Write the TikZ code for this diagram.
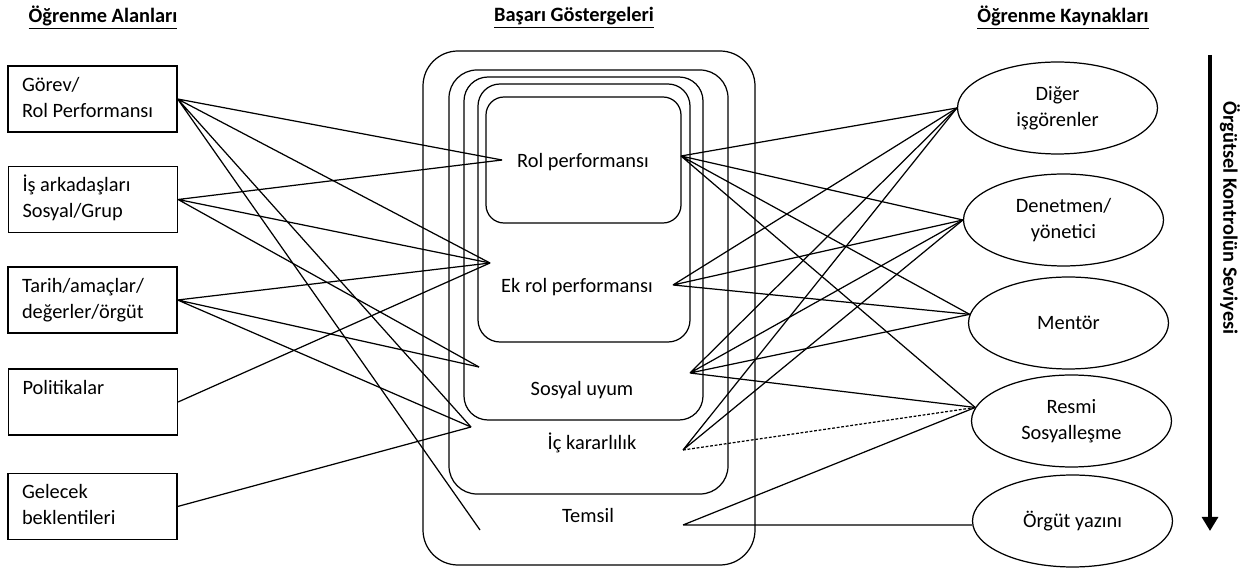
\documentclass[tikz,border=0pt]{standalone}
\usepackage{fontspec}
\setmainfont{Carlito}
\usepackage{xcolor}
\usepackage{tikz}
\usetikzlibrary{shapes.geometric,arrows.meta}

% two left-aligned lines with the font's own word spacing
\newcommand{\arealines}[1]{{\spaceskip=0pt\xspaceskip=0pt\begin{tabular}{@{}l@{}}#1\end{tabular}}}

\tikzset{
  areabox/.style={draw,line width=0.7pt,minimum width=3.38cm,minimum height=1.32cm,
    text width=2.82cm,inner xsep=0.28cm},
  sourcebox/.style={draw,ellipse,line width=0.7pt,minimum width=4cm,minimum height=1.84cm,
    inner sep=0pt,align=center},
  heading/.style={font=\fontsize{11.6pt}{14pt}\bfseries\selectfont},
  link/.style={line width=0.7pt},
}

\begin{document}
\begin{tikzpicture}[x=0.02cm,y=-0.02cm,font=\fontsize{11.6pt}{14.7pt}\selectfont]
        \useasboundingbox (0,0) rectangle (1254,570);

        % Column headings
        \node[heading] (hleft) at (103,18) {\underline{Öğrenme Alanları}};
        \node[heading] (hmid) at (574,18) {\underline{Başarı Göstergeleri}};
        \node[heading] (hright) at (1063,18) {\underline{Öğrenme Kaynakları}};

        % Learning areas (left column)
        \node[areabox] (gorev) at (92.5,99) {\arealines{Görev/\\Rol Performansı}};
        \node[areabox] (is) at (93,199.5) {\arealines{İş arkadaşları\\Sosyal/Grup}};
        \node[areabox] (tarih) at (92.5,300) {\arealines{Tarih/amaçlar/\\değerler/örgüt}};
        \node[areabox] (pol) at (93,402) {\arealines{Politikalar\\~}};
        \node[areabox] (gelecek) at (92.5,506.5) {\arealines{Gelecek\\beklentileri}};

        % Nested indicator frames (outermost first)
        \draw[line width=0.7pt,rounded corners=0.7cm] (423,51) rectangle (755,565);
        \draw[line width=0.7pt,rounded corners=0.56cm] (449,70) rectangle (728,494);
        \draw[line width=0.7pt,rounded corners=0.48cm] (464,77) rectangle (703,420);
        \draw[line width=0.7pt,rounded corners=0.44cm] (478,84) rectangle (690,342);
        \draw[line width=0.7pt,rounded corners=0.36cm] (486,97) rectangle (681,223);

        \node (rolp) at (583,162) {Rol performansı};
        \node (ekrol) at (577,287) {Ek rol performansı};
        \node (sosyal) at (582,390) {Sosyal uyum};
        \node (ic) at (592,443) {İç kararlılık};
        \node (temsil) at (588,515) {Temsil};

        % where the lines meet each indicator
        \coordinate (rolW) at (502,160);  \coordinate (rolE) at (681,156);
        \coordinate (ekW) at (490,263);   \coordinate (ekE) at (673,285);
        \coordinate (sosW) at (479,367);  \coordinate (sosE) at (690,373);
        \coordinate (icW) at (471,427);   \coordinate (icE) at (683,450);
        \coordinate (temW) at (480,530);  \coordinate (temE) at (683,525);

        % Learning sources (right column)
        \node[sourcebox] (diger) at (1057.5,108) {Diğer\\işgörenler};
        \node[sourcebox] (denetmen) at (1063.5,220) {Denetmen/\\yönetici};
        \node[sourcebox] (mentor) at (1068.5,323) {Mentör};
        \node[sourcebox] (resmi) at (1071.5,421) {Resmi\\Sosyalleşme};
        \node[sourcebox] (orgut) at (1072.5,521) {Örgüt yazını};

        % Areas -> indicators
        \draw[link] (gorev.east) -- (rolW) (gorev.east) -- (ekW)
                    (gorev.east) -- (icW) (gorev.east) -- (temW);
        \draw[link] (is.east) -- (rolW) (is.east) -- (ekW) (is.east) -- (sosW);
        \draw[link] (tarih.east) -- (ekW) (tarih.east) -- (sosW) (tarih.east) -- (icW);
        \draw[link] (pol.east) -- (ekW);
        \draw[link] (gelecek.east) -- (icW);

        % Indicators -> sources
        \draw[link] (rolE) -- (diger.west) (rolE) -- (denetmen.west)
                    (rolE) -- (mentor.175) (rolE) -- (resmi.172);
        \draw[link] (ekE) -- (diger.west) (ekE) -- (denetmen.west) (ekE) -- (mentor.175);
        \draw[link] (sosE) -- (diger.west) (sosE) -- (denetmen.west)
                    (sosE) -- (mentor.175) (sosE) -- (resmi.172);
        \draw[link] (icE) -- (diger.west) (icE) -- (denetmen.west);
        \draw[link,dash pattern=on 1.6pt off 1pt] (icE) -- (resmi.172);
        \draw[link] (temE) -- (resmi.172) (temE) -- (temE -| orgut.west);

        % Level of organisational control
        \coordinate (lvltop) at (1210,55);
        \coordinate (lvlbot) at (1210,531);
        \draw[line width=2.4pt,-{Triangle[length=8pt,width=9pt]}] (lvltop) -- (lvlbot);
        \node[heading,rotate=-90] (level) at (1230,218) {Örgütsel Kontrolün Seviyesi};
\end{tikzpicture}
\end{document}
